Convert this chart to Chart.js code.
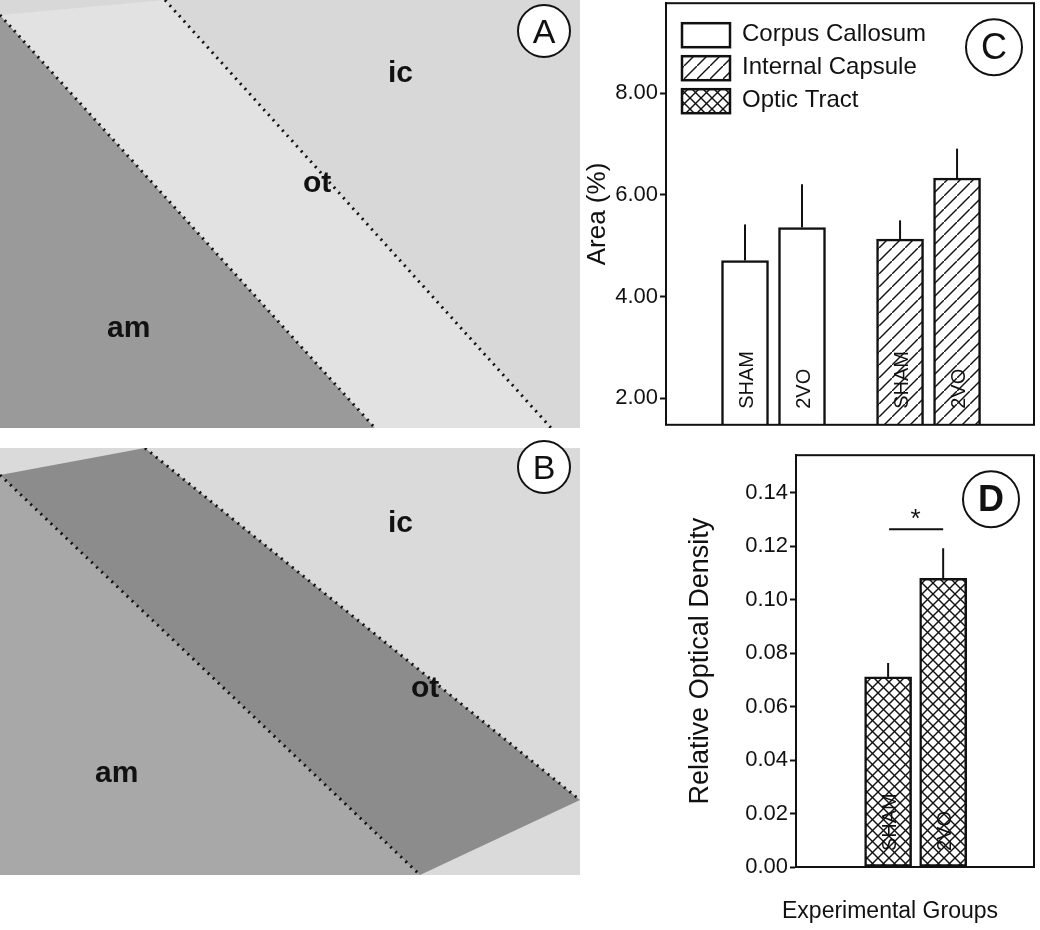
<!DOCTYPE html>
<html>
<head>
<meta charset="utf-8">
<script src="https://cdn.jsdelivr.net/npm/chart.js@4/dist/chart.umd.min.js"></script>
<style>
body{margin:0;background:#fff;font-family:"Liberation Sans",Arial,sans-serif;}
#wrap{position:relative;width:1040px;height:930px;overflow:hidden;}
.abs{position:absolute;}
.lbl{position:absolute;font-weight:bold;font-size:30px;color:#111;}
.circ{position:absolute;width:50px;height:50px;border:2px solid #111;border-radius:50%;background:#fff;
  font-size:34px;text-align:center;line-height:50px;color:#111;}
</style>
</head>
<body>
<div id="wrap">
  <canvas id="micro" class="abs" width="580" height="880" style="left:0;top:0"></canvas>
  <div class="lbl" style="left:388px;top:55px">ic</div>
  <div class="lbl" style="left:303px;top:165px">ot</div>
  <div class="lbl" style="left:107px;top:310px">am</div>
  <div class="circ" style="left:517px;top:4px">A</div>
  <div class="lbl" style="left:388px;top:505px">ic</div>
  <div class="lbl" style="left:411px;top:670px">ot</div>
  <div class="lbl" style="left:95px;top:755px">am</div>
  <div class="circ" style="left:517px;top:440px">B</div>

  <div class="abs" style="left:580px;top:-12px;width:460px;height:452px"><canvas id="chartC"></canvas></div>
  <div class="abs" style="left:680px;top:440px;width:360px;height:490px"><canvas id="chartD"></canvas></div>
  <div class="abs" style="left:782px;top:897px;font-size:23px;color:#111">Experimental Groups</div>
</div>
<script>
// panel C: area (%)
const groupsC=['Corpus Callosum','Internal Capsule','Optic Tract'];
const barLabels=['SHAM','2VO'];
const ccMean=[4.71,5.36];
const ccErr=[0.71,0.85];
const icMean=[5.13,6.33];
const icErr=[0.37,0.58];
const ticksC=[2,4,6,8];
// panel D: relative optical density (optic tract)
const otMean=[0.0711,0.1080];
const otErr=[0.0052,0.0112];

const GAP=0.72; // extra space between groups, in bar-slot units
const FONT='"Liberation Sans",Arial';

// micrograph placeholders (plain shading, not data)
(function(){
  const c=document.getElementById('micro').getContext('2d');
  function panel(y0,h,cols,lines){
    c.save();c.beginPath();c.rect(0,y0,580,h);c.clip();
    c.fillStyle=cols[0];c.fillRect(0,y0,580,h);
    c.fillStyle=cols[1];c.beginPath();c.moveTo(lines[0][0],lines[0][1]);c.lineTo(lines[0][2],lines[0][3]);
    c.lineTo(0,y0+h);c.closePath();c.fill();
    c.fillStyle=cols[2];c.beginPath();c.moveTo(lines[0][0],lines[0][1]);c.lineTo(lines[0][2],lines[0][3]);
    c.lineTo(lines[1][2],lines[1][3]);c.lineTo(lines[1][0],lines[1][1]);c.closePath();c.fill();
    c.setLineDash([2,5]);c.lineWidth=3;c.strokeStyle='#111';
    for(const l of lines){c.beginPath();c.moveTo(l[0],l[1]);c.lineTo(l[2],l[3]);c.stroke();}
    c.restore();
  }
  panel(0,428,['#d8d8d8','#9a9a9a','#e2e2e2'],[[0,15,375,428],[165,0,580,460]]);
  panel(448,427,['#dadada','#a8a8a8','#8c8c8c'],[[0,475,420,875],[145,448,580,800]]);
})();

function makePattern(kind){
  const s=kind==='cross'?11:13;
  const p=document.createElement('canvas');p.width=s;p.height=s;
  const g=p.getContext('2d');
  g.fillStyle='#fff';g.fillRect(0,0,s,s);
  g.strokeStyle='#111';g.lineWidth=1.4;
  g.beginPath();g.moveTo(0,s);g.lineTo(s,0);g.stroke();
  if(kind==='cross'){g.beginPath();g.moveTo(0,0);g.lineTo(s,s);g.stroke();}
  return g.createPattern(p,'repeat');
}
const hatch=makePattern('hatch'), cross=makePattern('cross');

const frame={id:'frame',afterDraw(ch){
  const a=ch.chartArea,c=ch.ctx;
  c.save();c.strokeStyle='#111';c.lineWidth=2;c.strokeRect(a.left,a.top,a.right-a.left,a.bottom-a.top);c.restore();
}};
const errBars={id:'errBars',afterDatasetsDraw(ch){
  const c=ch.ctx,y=ch.scales.y;
  ch.data.datasets.forEach((ds,i)=>{
    ch.getDatasetMeta(i).data.forEach((bar,j)=>{
      c.save();c.strokeStyle='#111';c.lineWidth=2;
      c.beginPath();c.moveTo(bar.x,bar.y);c.lineTo(bar.x,y.getPixelForValue(ds.data[j].y+ds.err[j]));c.stroke();
      // rotated label inside bar
      c.translate(bar.x+8,ch.chartArea.bottom-16);c.rotate(-Math.PI/2);
      c.font='20px '+FONT;c.fillStyle='#111';c.textAlign='left';
      c.fillText(barLabels[j],0,0);
      c.restore();
    });
  });
}};
const yAxis=(min,max,title,fmt,extra)=>Object.assign({
  type:'linear',min,max,
  border:{color:'#111',width:2},
  grid:{drawOnChartArea:false,color:'#111',tickLength:6,tickWidth:2},
  ticks:{color:'#111',font:{size:22,family:FONT},callback:fmt,padding:2},
  title:{display:true,text:title,color:'#111',font:{size:27,family:FONT},padding:0}
},extra);
const xAxis=(min,max)=>({type:'linear',min,max,offset:false,display:false});
const common={responsive:true,maintainAspectRatio:false,animation:false,
  plugins:{legend:{display:false},tooltip:{enabled:false}}};

const pts=(arr,g)=>arr.map((v,i)=>({x:1+i+g*(2+GAP),y:v}));
const barStyle={borderColor:'#111',borderWidth:2.5,borderSkipped:false,barThickness:47,grouped:false};

const legendC={id:'legendC',afterDraw(ch){
  const c=ch.ctx,a=ch.chartArea,fills=['#fff',hatch,cross];
  c.save();
  groupsC.forEach((t,i)=>{
    const x=a.left+16,y=a.top+20+i*33;
    c.fillStyle=fills[i];c.fillRect(x,y,48,24);
    c.strokeStyle='#111';c.lineWidth=2.5;c.strokeRect(x,y,48,24);
    c.fillStyle='#111';c.font='24px '+FONT;c.textBaseline='middle';
    c.fillText(t,x+60,y+11);
  });
  c.beginPath();c.arc(a.right-40,a.top+44,28,0,Math.PI*2);c.lineWidth=2;c.stroke();
  c.font='36px '+FONT;c.textAlign='center';c.fillText('C',a.right-40,a.top+46);
  c.restore();
}};

new Chart(document.getElementById('chartC'),{
  type:'bar',
  data:{datasets:[
    Object.assign({data:pts(ccMean,0),err:ccErr,backgroundColor:'#fff'},barStyle),
    Object.assign({data:pts(icMean,1),err:icErr,backgroundColor:hatch},barStyle)
  ]},
  options:Object.assign({},common,{
    layout:{padding:{top:2,right:6,bottom:12,left:2}},
    scales:{x:xAxis(-0.386,6.07),
      y:yAxis(1.48,9.77,'Area (%)',v=>ticksC.includes(v)?v.toFixed(2):'',
        {afterBuildTicks(s){s.ticks=ticksC.map(v=>({value:v}));},afterFit(s){s.width=84;},
         title:{display:true,text:'Area (%)',color:'#111',font:{size:26,family:FONT},padding:0}})}
  }),
  plugins:[frame,errBars,legendC]
});

const sigD={id:'sigD',afterDraw(ch){
  const c=ch.ctx,m=ch.getDatasetMeta(0).data,a=ch.chartArea;
  c.save();c.strokeStyle='#111';c.lineWidth=2;
  const y=ch.scales.y.getPixelForValue(0.1263);
  c.beginPath();c.moveTo(m[0].x+1,y);c.lineTo(m[1].x,y);c.stroke();
  c.fillStyle='#111';c.font='26px '+FONT;c.textAlign='center';
  c.fillText('*',(m[0].x+m[1].x)/2,y-2);
  c.beginPath();c.arc(a.right-43,a.top+44,28,0,Math.PI*2);c.stroke();
  c.font='bold 36px '+FONT;c.textBaseline='middle';c.fillText('D',a.right-43,a.top+46);
  c.restore();
}};

new Chart(document.getElementById('chartD'),{
  type:'bar',
  data:{datasets:[Object.assign({data:pts(otMean,0),err:otErr,backgroundColor:cross},barStyle)]},
  options:Object.assign({},common,{
    layout:{padding:{top:6,right:6,bottom:63,left:4}},
    scales:{x:xAxis(-0.673,3.65),
      y:yAxis(0,0.154,'Relative Optical Density',v=>v.toFixed(2),
        {afterBuildTicks(s){s.ticks=s.ticks.filter(t=>t.value<=0.1401);},afterFit(s){s.width=112;},
         ticks:{color:'#111',font:{size:22,family:FONT},callback:v=>v.toFixed(2),padding:2,stepSize:0.02}})}
  }),
  plugins:[frame,errBars,sigD]
});
</script>
</body>
</html>
